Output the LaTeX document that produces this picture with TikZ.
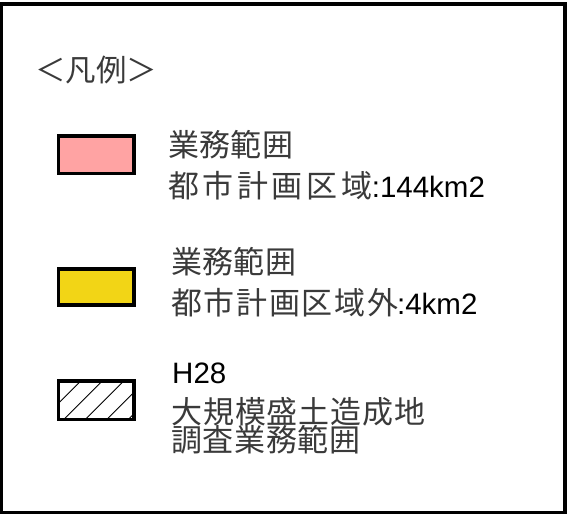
\documentclass[tikz,border=0pt]{standalone}
\usepackage{fontspec}
\setmainfont{Liberation Sans}
\newfontfamily\cjk{Noto Sans CJK JP}
\definecolor{pinkfill}{HTML}{FFA3A3}
\definecolor{yellowfill}{HTML}{F2D516}
\definecolor{jtext}{HTML}{3A3A3A}
\tikzset{
  frame/.style={draw=black, line width=3.4pt},
  keybox/.style={draw=black, line width=3.6pt},
  hatchline/.style={draw=black, line width=0.9pt},
  label/.style={anchor=base west, inner sep=0pt, font=\fontsize{29.5}{29.5}\selectfont},
  title/.style={anchor=base west, inner sep=0pt, font=\fontsize{30.5}{30.5}\selectfont\cjk, text=jtext}
}
\makeatletter
\newcommand{\jpsp}[2]{{\cjk\color{jtext}\fontsize{31}{31}\selectfont\def\my@adv{#1}\my@sploop#2\relax}}
\def\my@sploop#1{\ifx#1\relax\else\makebox[\my@adv][l]{#1}\expandafter\my@sploop\fi}
\makeatother
\begin{document}
\begin{tikzpicture}[x=1pt,y=-1pt]
\useasboundingbox (0,0) rectangle (569,516);
% outer frame
\draw[frame] (1.7,4.2) rectangle (564.8,512.6);
% title
\node[title] (title) at (35,82) {＜凡例＞};
% key 1
\filldraw[keybox, fill=pinkfill] (58.5,136) rectangle (134,173.5);
\node[label] (k1a) at (168,156) {\jpsp{31.3pt}{業務範囲}};
\node[label] (k1b) at (168,197) {\jpsp{34.6pt}{都市計画区域}\hspace{-4pt}:144km2};
% key 2
\filldraw[keybox, fill=yellowfill] (58.5,269) rectangle (134,305);
\node[label] (k2a) at (171,273) {\jpsp{31.3pt}{業務範囲}};
\node[label] (k2b) at (171,314) {\jpsp{32.7pt}{都市計画区域外}\hspace{-3pt}:4km2};
% key 3
\begin{scope}
\clip (58.5,381) rectangle (134,419.3);
\foreach \xb in {21,42.5,64,85.5,107,128.5} {
  \draw[hatchline] (\xb,419.3) -- ++(40,-40);
}
\end{scope}
\draw[keybox] (58.5,381) rectangle (134,419.3);
\node[label] (k3a) at (172,383) {H28};
\node[label] (k3b) at (171,423) {\jpsp{31.9pt}{大規模盛土造成地}};
\node[label] (k3c) at (171,451) {\jpsp{31.6pt}{調査業務範囲}};
\end{tikzpicture}
\end{document}
